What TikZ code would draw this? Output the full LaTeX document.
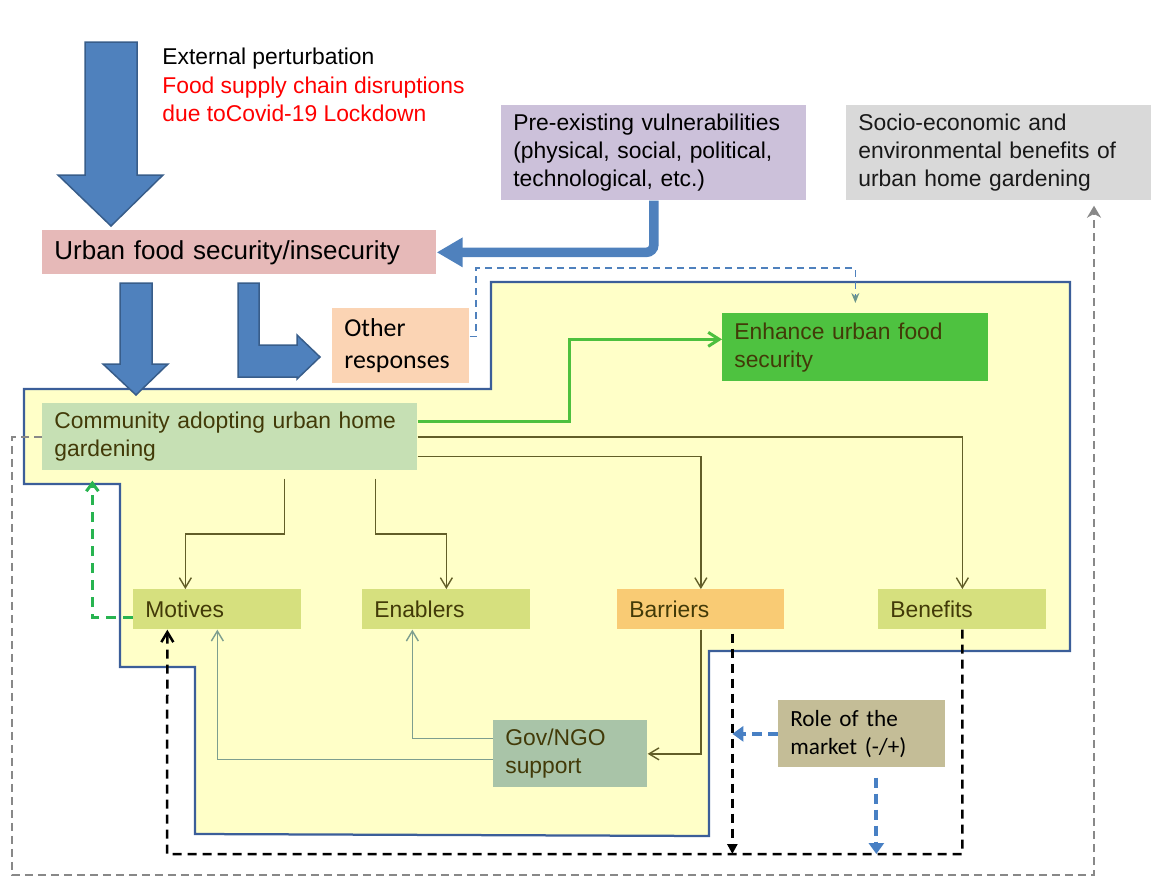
\documentclass[tikz,border=0pt]{standalone}
\usepackage{fontspec}
\setmainfont{Liberation Sans}
\newfontfamily\calibfont{Carlito}
\usepackage{xcolor}
\usepackage{tikz}
\usetikzlibrary{calc,arrows.meta}

\definecolor{arrowblue}{RGB}{79,129,189}
\definecolor{arrowedge}{RGB}{56,93,138}
\definecolor{zoneyellow}{RGB}{255,255,200}
\definecolor{zoneedge}{RGB}{59,94,153}
\definecolor{urbanpink}{RGB}{230,185,184}
\definecolor{prelilac}{RGB}{204,193,218}
\definecolor{sociogray}{RGB}{217,217,217}
\definecolor{otherpeach}{RGB}{251,212,180}
\definecolor{enhgreen}{RGB}{78,194,64}
\definecolor{commgreen}{RGB}{198,224,180}
\definecolor{factgreen}{RGB}{214,224,126}
\definecolor{barorange}{RGB}{249,203,116}
\definecolor{govgreen}{RGB}{169,196,168}
\definecolor{roletan}{RGB}{196,189,151}
\definecolor{olivetext}{RGB}{66,58,8}
\definecolor{oliveline}{RGB}{98,94,40}
\definecolor{govline}{RGB}{125,158,143}
\definecolor{linkgreen}{RGB}{77,192,62}
\definecolor{dashgreen}{RGB}{40,180,80}
\definecolor{dashgray}{RGB}{136,136,136}
\definecolor{dashblue}{RGB}{72,128,196}
\definecolor{tipteal}{RGB}{110,150,140}

\tikzset{
  box/.style={anchor=north west, inner xsep=2.4mm, inner ysep=0pt, align=left,
    font=\fontsize{13}{16}\selectfont},
  zonebox/.style={box, text=olivetext},
  blockarrow/.style={fill=arrowblue, draw=arrowedge, line width=0.3mm},
  blueflow/.style={draw=arrowblue, line width=1.9mm, rounded corners=1.5mm,
    -{Triangle[length=5.2mm,width=5.6mm]}},
  olv/.style={draw=oliveline, line width=0.28mm, -{Straight Barb[length=2mm,width=2.4mm]}},
  govarrow/.style={draw=govline, line width=0.28mm, -{Straight Barb[length=2mm,width=2.4mm]}},
  link/.style={draw=linkgreen, line width=0.6mm, -{Straight Barb[length=2.2mm,width=2.8mm]}},
  greendash/.style={draw=dashgreen, line width=0.6mm, dash pattern=on 2mm off 1.4mm,
    -{Straight Barb[length=1.6mm,width=2.4mm]}},
  loopdash/.style={draw=black, line width=0.5mm, dash pattern=on 1.8mm off 1.2mm},
  mktarrow/.style={draw=dashblue, line width=0.8mm, dash pattern=on 2mm off 1.2mm,
    -{Triangle[length=2.2mm,width=3mm]}},
  otherdash/.style={draw=arrowblue, line width=0.3mm, dash pattern=on 1.4mm off 1mm,
    -{Stealth[length=2mm,width=1.6mm,color=tipteal]}, shorten >=2mm},
  graydash/.style={draw=dashgray, line width=0.45mm, dash pattern=on 1.6mm off 1mm,
    -{Stealth[length=2.4mm,width=2.8mm]}, shorten >=1mm}
}

\begin{document}
\begin{tikzpicture}[x=0.2mm, y=-0.2mm]
\useasboundingbox (0,0) rectangle (1153,877);

% yellow zone behind the garden boxes
\filldraw[fill=zoneyellow, draw=zoneedge, line width=0.45mm] (491,282) -- (1070,282) -- (1070,651)
  -- (709,651) -- (709,836) -- (195,834) -- (195,667) -- (120,667) -- (120,484) -- (24,484)
  -- (24,389) -- (491,389) -- cycle;

\node[anchor=north west, align=left, inner sep=0pt, font=\fontsize{13}{16}\selectfont] (ext) at (162,48)
  {External perturbation\\\textcolor{red}{Food supply chain disruptions}\\\textcolor{red}{due toCovid-19 Lockdown}};

\node[box, fill=urbanpink, text width=7.4cm, minimum height=8.8mm, font=\fontsize{14.8}{17}\selectfont]
  (urban) at (42,230) {Urban food security/insecurity};
\node[box, fill=prelilac, text width=5.62cm, minimum height=1.9cm] (pre) at (501,105)
  {Pre-existing vulnerabilities\\(physical, social, political,\\technological, etc.)};
\node[box, fill=sociogray, text width=5.62cm, minimum height=1.9cm, text=black!90] (socio) at (846,105)
  {Socio-economic and\\environmental benefits of\\urban home gardening};
\node[box, fill=otherpeach, text width=2.26cm, minimum height=1.5cm, font=\calibfont\fontsize{14.7}{18.2}\selectfont]
  (other) at (332,308) {Other\\responses};
\node[zonebox, fill=enhgreen, text width=4.84cm, minimum height=1.36cm] (enh) at (722,313)
  {Enhance urban food\\security};
\node[zonebox, fill=commgreen, text width=7.02cm, minimum height=1.34cm] (comm) at (42,403)
  {Community adopting urban home\\gardening};
\node[zonebox, fill=factgreen, text width=2.88cm, minimum height=8mm] (mot) at (133,589) {Motives};
\node[zonebox, fill=factgreen, text width=2.88cm, minimum height=8mm] (ena) at (362,589) {Enablers};
\node[zonebox, fill=barorange, text width=2.86cm, minimum height=8mm] (bar) at (617,589) {Barriers};
\node[zonebox, fill=factgreen, text width=2.88cm, minimum height=8mm] (ben) at (878,589) {Benefits};
\node[zonebox, fill=govgreen, text width=2.6cm, minimum height=1.34cm] (gov) at (493,720)
  {Gov/NGO\\support};
\node[box, fill=roletan, text width=2.86cm, minimum height=1.34cm, font=\calibfont\fontsize{13.2}{15.9}\selectfont]
  (role) at (778,700) {Role of the\\market (-/+)};

% block arrows
\filldraw[blockarrow] (85,42) -- (137,42) -- (137,175) -- (163,175) -- (111,226) -- (58,175) -- (85,175) -- cycle;
\filldraw[blockarrow] (120,283) -- (152,283) -- (152,364) -- (168,364) -- (136,395) -- (103,364) -- (120,364) -- cycle;
\filldraw[blockarrow] (238,283) -- (259,283) -- (259,345) -- (297,345) -- (297,335) -- (320,357)
  -- (297,379) -- (297,377) -- (238,377) -- cycle;
\draw[blueflow] (pre.south) |- (urban.east);

% links inside the zone
\coordinate (gs) at ([yshift=3.1mm]comm.east);
\coordinate (ge) at ([yshift=1.6mm]enh.west);
\draw[link] (gs) -| ($(gs)!.5!(ge)$) |- (ge);
\coordinate (c1) at ([xshift=10.9mm,yshift=-1.6mm]comm.south);
\coordinate (m1) at ([xshift=-6.4mm]mot.north);
\coordinate (c2) at ([xshift=29.1mm,yshift=-1.6mm]comm.south);
\draw[olv] (c1) |- ($(c1)!.5!(m1)$) -| (m1);
\draw[olv] (c2) |- ($(c2)!.5!(ena.north)$) -| (ena.north);
\draw[olv] ([yshift=-3.9mm]comm.east) -| (bar.north);
\draw[olv] (comm.east) -| (ben.north);
\draw[govarrow] ([yshift=-1.1mm]gov.west) -| (mot.south);
\draw[govarrow] ([yshift=3.1mm]gov.west) -| ([xshift=-6.8mm]ena.south);
\draw[olv] (bar.south) |- (gov.east);
\draw[greendash] ([yshift=-1.6mm]mot.west) -| ([xshift=-27.5mm,yshift=-2mm]comm.south);

% feedback loop below the zone
\coordinate (loopl) at (167,854);
\coordinate (bd) at ([xshift=6.3mm,yshift=-0.8mm]bar.south);
\coordinate (rd) at ([xshift=2.9mm,yshift=-2mm]role.south);
\draw[loopdash, -{Straight Barb[length=2mm,width=2.4mm]}] (ben.south) |- (loopl) -- ([xshift=-10mm]mot.south);
\draw[loopdash, -{Triangle[length=2mm,width=2mm]}] (bd) -- (bd |- loopl);
\draw[mktarrow] (role.west) -- (role.west -| bd);
\draw[mktarrow] (rd) -- (rd |- loopl);

% other responses and outer loop
\coordinate (od) at (476,268);
\draw[otherdash] ([yshift=1.9mm]other.east) -| (od) -| (enh.north);
\coordinate (gl) at (12,875);
\coordinate (gr) at (1094,875);
\draw[graydash] (comm.west) -| (gl) -- (gr) -- (gr |- socio.south);
\end{tikzpicture}
\end{document}
